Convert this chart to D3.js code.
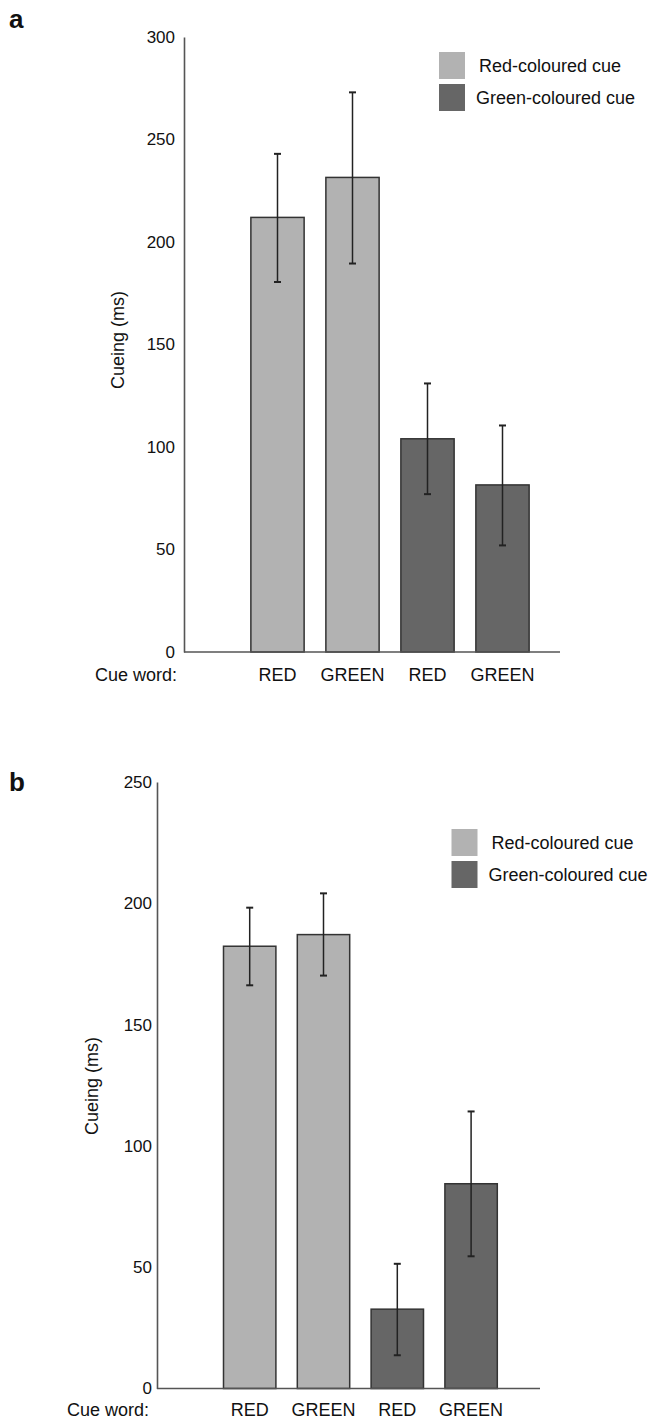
<!DOCTYPE html>
<html>
<head>
<meta charset="utf-8">
<script src="https://d3js.org/d3.v7.min.js"></script>
<style>
  body { margin: 0; background: #fff; }
  text { font-family: "Liberation Sans", Arial, sans-serif; fill: #111; }
</style>
</head>
<body>
<div id="my_dataviz"></div>
<script>

// categories (cue word) and cue colour groups
var cueWords = ["RED", "GREEN", "RED", "GREEN"];
var cueColour = ["Red-coloured cue", "Red-coloured cue", "Green-coloured cue", "Green-coloured cue"];
var legendLabels = ["Red-coloured cue", "Green-coloured cue"];

// panel a values
var meanA = [212, 231.5, 104, 81.5];
var upperA = [243, 273, 131, 110.5];
var lowerA = [180.5, 189.5, 77, 52];
var ticksA = [0, 50, 100, 150, 200, 250, 300];

// panel b values
var meanB = [182.3, 187.1, 32.7, 84.4];
var upperB = [198.2, 204.1, 51.4, 114.2];
var lowerB = [166.2, 170.2, 13.7, 54.5];
var ticksB = [0, 50, 100, 150, 200, 250];

var color = d3.scaleOrdinal()
  .domain(legendLabels)
  .range(["#b2b2b2", "#666666"]);

var svg = d3.select("#my_dataviz")
  .append("svg")
    .attr("width", 648)
    .attr("height", 1420);

function drawPanel(p) {
  var g = svg.append("g");

  // panel letter
  g.append("text")
    .attr("x", p.letterX)
    .attr("y", p.letterY)
    .style("font-size", "26px")
    .style("font-weight", "bold")
    .text(p.letter);

  var y = d3.scaleLinear()
    .domain([0, p.ymax])
    .range([p.yBottom, p.yTop]);

  var x = d3.scaleBand()
    .domain(d3.range(cueWords.length))
    .range(p.xRange)
    .paddingInner(0.29)
    .paddingOuter(0.145);

  // y axis
  var yAxis = g.append("g")
    .attr("transform", "translate(" + p.axisX + ",0)")
    .call(d3.axisLeft(y).tickValues(p.ticks).tickSize(0).tickSizeOuter(0).tickPadding(p.tickPad));
  yAxis.select(".domain").attr("stroke", "#555").attr("stroke-width", 1.6);
  yAxis.selectAll("text")
    .style("font-size", "17px")
    .style("font-family", "'Liberation Sans', Arial, sans-serif")
    .attr("fill", "#111");

  // y label
  g.append("text")
    .attr("transform", "translate(" + p.labelX + "," + p.labelY + ") rotate(-90)")
    .attr("text-anchor", "middle")
    .style("font-size", "18px")
    .text("Cueing (ms)");

  // bars
  g.append("g")
    .selectAll("rect")
    .data(p.mean)
    .enter().append("rect")
      .attr("x", function(d, i) { return x(i); })
      .attr("y", function(d) { return y(d); })
      .attr("width", x.bandwidth())
      .attr("height", function(d) { return y(0) - y(d); })
      .attr("fill", function(d, i) { return color(cueColour[i]); })
      .attr("stroke", "#333")
      .attr("stroke-width", 1.5);

  // error bars
  var err = g.append("g")
    .selectAll("g")
    .data(p.mean)
    .enter().append("g")
      .attr("stroke", "#222")
      .attr("stroke-width", 1.5);
  err.append("line")
    .attr("x1", function(d, i) { return x(i) + x.bandwidth() / 2; })
    .attr("x2", function(d, i) { return x(i) + x.bandwidth() / 2; })
    .attr("y1", function(d, i) { return y(p.upper[i]); })
    .attr("y2", function(d, i) { return y(p.lower[i]); });
  [p.upper, p.lower].forEach(function(arr) {
    err.append("line")
      .attr("x1", function(d, i) { return x(i) + x.bandwidth() / 2 - 3.5; })
      .attr("x2", function(d, i) { return x(i) + x.bandwidth() / 2 + 3.5; })
      .attr("y1", function(d, i) { return y(arr[i]); })
      .attr("y2", function(d, i) { return y(arr[i]); })
      .attr("stroke-width", 2);
  });

  // x baseline
  g.append("line")
    .attr("x1", p.axisX)
    .attr("x2", p.xEnd)
    .attr("y1", y(0))
    .attr("y2", y(0))
    .attr("stroke", "#555")
    .attr("stroke-width", 1.6);

  // category labels
  var xAxis = g.append("g")
    .attr("transform", "translate(0," + y(0) + ")")
    .call(d3.axisBottom(x).tickSize(0).tickPadding(p.catPad).tickFormat(function(i) { return cueWords[i]; }));
  xAxis.select(".domain").remove();
  xAxis.selectAll("text")
    .style("font-size", "18px")
    .style("font-family", "'Liberation Sans', Arial, sans-serif")
    .attr("fill", "#111");

  g.append("text")
    .attr("x", p.cueX)
    .attr("y", y(0) + p.catPad + 12.8)
    .attr("text-anchor", "end")
    .style("font-size", "18px")
    .text("Cue word:");

  // legend
  var leg = g.append("g")
    .selectAll("g")
    .data(legendLabels)
    .enter().append("g")
      .attr("transform", function(d, i) { return "translate(" + p.legX + "," + (p.legY + i * p.legStep) + ")"; });
  leg.append("rect")
    .attr("width", 26)
    .attr("height", 27)
    .attr("fill", function(d) { return color(d); });
  leg.append("text")
    .attr("x", function(d, i) { return i == 0 ? 40 : 37; })
    .attr("y", 13.5)
    .attr("dy", "0.35em")
    .style("font-size", "18px")
    .text(function(d) { return d; });
}

drawPanel({
  letter: "a", letterX: 9, letterY: 28,
  ymax: 300, yTop: 37, yBottom: 652, ticks: ticksA,
  axisX: 184, xEnd: 560, xRange: [240, 540], tickPad: 9,
  labelX: 124, labelY: 340, catPad: 16, cueX: 177,
  mean: meanA, upper: upperA, lower: lowerA,
  legX: 439, legY: 52, legStep: 32
});

drawPanel({
  letter: "b", letterX: 9, letterY: 791,
  ymax: 250, yTop: 782, yBottom: 1388.5, ticks: ticksB,
  axisX: 157, xEnd: 540, xRange: [212.8, 508], tickPad: 5,
  labelX: 98, labelY: 1086, catPad: 15, cueX: 149,
  mean: meanB, upper: upperB, lower: lowerB,
  legX: 451.5, legY: 829, legStep: 32
});

</script>
</body>
</html>
